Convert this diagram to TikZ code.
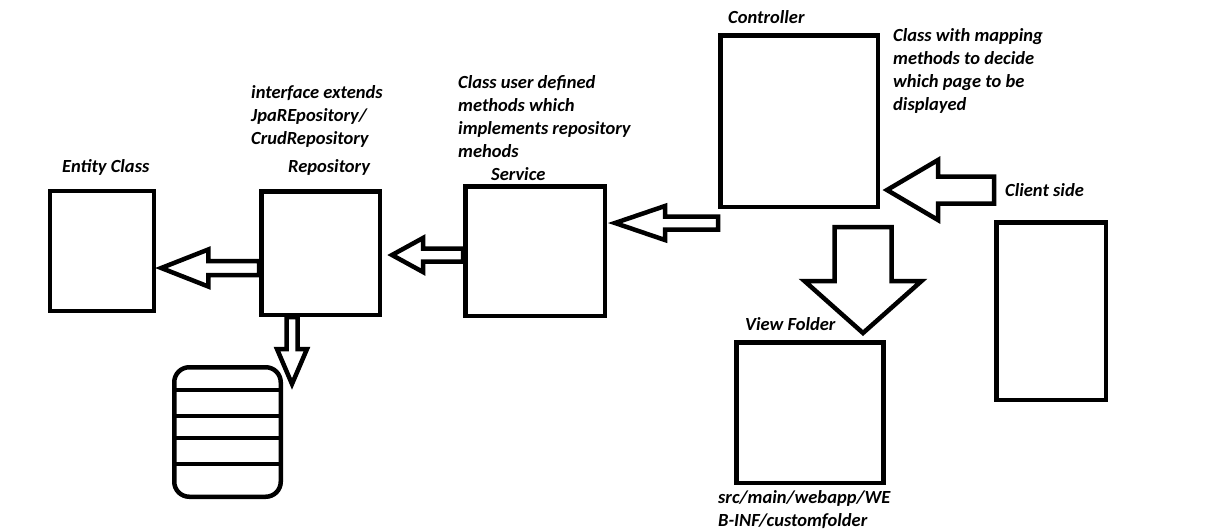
\documentclass[tikz,border=0pt]{standalone}
\usepackage{fontspec}
\setmainfont{Carlito}
\usetikzlibrary{calc}

\tikzset{
  box/.style={draw, line width=4.5pt, inner sep=0pt},
  lbl/.style={anchor=base west, inner sep=0pt, align=left, font=\fontsize{18.5}{23}\selectfont\bfseries\itshape},
  blockarrow/.style={draw, line width=4.5pt, fill=white}
}
% block arrows: tip, tail, head length, head half width, shaft half width
\newcommand{\leftblock}[5]{%
  \draw[blockarrow] let \p1=(#1), \p2=(#2) in
    (\x1,\y1) -- (\x1+#3pt,\y1+#4pt) -- (\x1+#3pt,\y1+#5pt) -- (\x2,\y1+#5pt)
    -- (\x2,\y1-#5pt) -- (\x1+#3pt,\y1-#5pt) -- (\x1+#3pt,\y1-#4pt) -- cycle;}
\newcommand{\downblock}[5]{%
  \draw[blockarrow] let \p1=(#1), \p2=(#2) in
    (\x1,\y1) -- (\x1-#4pt,\y1+#3pt) -- (\x1-#5pt,\y1+#3pt) -- (\x1-#5pt,\y2)
    -- (\x1+#5pt,\y2) -- (\x1+#5pt,\y1+#3pt) -- (\x1+#4pt,\y1+#3pt) -- cycle;}

\begin{document}
\begin{tikzpicture}[x=1pt, y=-1pt]
  \useasboundingbox (0,0) rectangle (1210,531);

  % boxes
  \node[box, minimum width=104pt, minimum height=120pt] (entity) at (102,251) {};
  \node[box, minimum width=118.5pt, minimum height=123.5pt] (repo) at (320.5,253) {};
  \node[box, minimum width=139.5pt, minimum height=129.5pt] (service) at (535,251) {};
  \node[box, minimum width=157.5pt, minimum height=171.5pt] (controller) at (799,121) {};
  \node[box, minimum width=147pt, minimum height=140.5pt] (view) at (810,412.5) {};
  \node[box, minimum width=109.5pt, minimum height=177.5pt] (client) at (1051,311) {};
  \node[box, rounded corners=15pt, minimum width=106.5pt, minimum height=129.5pt] (db) at (227.5,432) {};
  \foreach \y in {390,416,438,464}
    \draw[line width=4.5pt] (db.west |- 0,\y) -- (db.east |- 0,\y);

  % labels (base = last line)
  \node[lbl] (entitylbl) at (62,172) {Entity Class};
  \node[lbl] (repolbl) at (288,172) {Repository};
  \node[lbl] (repodesc) at (251,144) {interface extends\\JpaREpository/\\CrudRepository};
  \node[lbl] (servicelbl) at (491,180) {Service};
  \node[lbl] (servicedesc) at (458,157) {Class user defined\\methods which\\implements repository\\mehods};
  \node[lbl] (controllerlbl) at (728,23) {Controller};
  \node[lbl] (controllerdesc) at (893,110) {Class with mapping\\methods to decide\\which page to be\\displayed};
  \node[lbl] (clientlbl) at (1005,196) {Client side};
  \node[lbl] (viewlbl) at (745,330) {View Folder};
  \node[lbl] (viewpath) at (718,526) {src/main/webapp/WE\\B-INF/customfolder};

  % block arrows
  \coordinate (ctail) at ($(controller.south)+(0,18)$);
  \leftblock{$(entity.east |- 0,268)+(5,0)$}{repo.west}{47}{18.5}{7}
  \leftblock{$(repo.east |- 0,255)+(10,0)$}{service.west}{31}{17}{6.5}
  \leftblock{$(service.east |- 0,223)+(8,0)$}{controller.west}{50}{17}{6.5}
  \leftblock{$(controller.east |- 0,190)+(7,0)$}{client.west}{51}{30}{13.5}
  \downblock{$(view.north)+(53,-7)$}{ctail}{52}{58.5}{28.5}
  \downblock{$(db.north east)+(9,19)$}{repo.south}{35}{15}{5.5}
\end{tikzpicture}
\end{document}
